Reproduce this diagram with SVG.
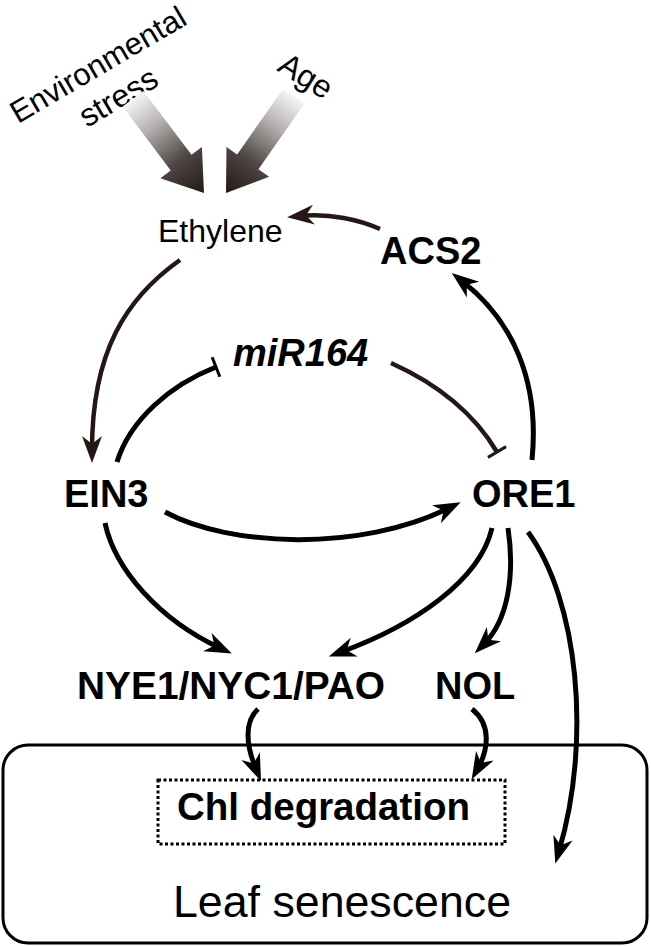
<svg xmlns="http://www.w3.org/2000/svg" width="651" height="946" viewBox="0 0 651 946">
<style>
  .reg { font-family: "Liberation Sans", Arial, sans-serif; fill: #000; }
  .bold { font-family: "Liberation Sans", Arial, sans-serif; font-weight: bold; fill: #000; font-size: 38px; }
  .ln { fill: none; stroke: #000; stroke-width: 5; }
  .br { fill: none; stroke: #231815; stroke-width: 4.5; }
</style>
<defs>
  <marker id="arr" markerUnits="userSpaceOnUse" markerWidth="40" markerHeight="40" refX="0" refY="0" orient="auto" overflow="visible">
    <path d="M13,0 L-14,-10 L-6,0 L-14,10 Z" fill="#000"/>
  </marker>
  <marker id="arrB" markerUnits="userSpaceOnUse" markerWidth="40" markerHeight="40" refX="0" refY="0" orient="auto" overflow="visible">
    <path d="M13,0 L-14,-10 L-6,0 L-14,10 Z" fill="#231815"/>
  </marker>
  <marker id="tee" markerUnits="userSpaceOnUse" markerWidth="30" markerHeight="30" refX="0" refY="0" orient="auto" overflow="visible">
    <rect x="-1.5" y="-10.5" width="3" height="21" fill="#000"/>
  </marker>
  <marker id="teeB" markerUnits="userSpaceOnUse" markerWidth="30" markerHeight="30" refX="0" refY="0" orient="auto" overflow="visible">
    <rect x="-1.5" y="-10.5" width="3" height="21" fill="#231815"/>
  </marker>
  <linearGradient id="fade" gradientUnits="userSpaceOnUse" x1="-118" y1="0" x2="0" y2="0">
    <stop offset="0" stop-color="#f6f5f5"/>
    <stop offset="0.3" stop-color="#b3afae"/>
    <stop offset="0.65" stop-color="#4f4745"/>
    <stop offset="1" stop-color="#231815"/>
  </linearGradient>
</defs>

<g id="inputs">
  <text class="reg" font-size="31" transform="translate(18,124) rotate(-30.5)">Environmental</text>
  <text class="reg" font-size="32" transform="translate(87,128) rotate(-30.5)">stress</text>
  <text class="reg" font-size="32" transform="translate(276,70) rotate(32)">Age</text>
  <g transform="translate(204,193) rotate(53)">
    <path d="M-118,-13 L-38,-13 L-38,-26 L0,0 L-38,26 L-38,13 L-118,13 Z" fill="url(#fade)"/>
  </g>
  <g transform="translate(226,193) rotate(125)">
    <path d="M-118,-13 L-38,-13 L-38,-26 L0,0 L-38,26 L-38,13 L-118,13 Z" fill="url(#fade)"/>
  </g>
</g>

<g id="connectors">
  <path class="br" d="M380,229 C360,220 330,213 300,216" marker-end="url(#arrB)"/>
  <path class="br" d="M180,260 C126,298 92,352 92,450" marker-end="url(#arrB)"/>
  <path class="ln" d="M117,462 C130,420 170,385 216,367" marker-end="url(#tee)"/>
  <path class="br" stroke-width="5" d="M391,363 C440,385 475,415 497,452" marker-end="url(#teeB)"/>
  <path class="ln" d="M532,460 C540,380 512,320 462,281" marker-end="url(#arr)"/>
  <path class="ln" stroke-width="6" d="M165,512 C230,547 360,552 449,508" marker-end="url(#arr)"/>
  <path class="ln" d="M105,523 C115,570 160,620 220,648" marker-end="url(#arr)"/>
  <path class="ln" d="M492,528 C480,580 415,625 341,652" marker-end="url(#arr)"/>
  <path class="ln" d="M508,528 C515,575 508,620 484,644" marker-end="url(#arr)"/>
  <path class="ln" d="M528,532 C578,600 592,740 559,851" marker-end="url(#arr)"/>
  <path class="ln" d="M258,709 C244,722 246,745 256,769" marker-end="url(#arr)"/>
  <path class="ln" d="M472,709 C492,725 488,750 478,768" marker-end="url(#arr)"/>
</g>

<g id="ethylene"><text class="reg" font-size="32" x="158" y="242">Ethylene</text></g>
<g id="acs2"><text class="bold" x="380" y="264">ACS2</text></g>
<g id="mir164"><text class="bold" font-style="italic" x="233" y="366">miR164</text></g>
<g id="ein3"><text class="bold" x="64" y="507">EIN3</text></g>
<g id="ore1"><text class="bold" x="472" y="507">ORE1</text></g>
<g id="nye"><text class="bold" x="77" y="699" textLength="308" lengthAdjust="spacingAndGlyphs">NYE1/NYC1/PAO</text></g>
<g id="nol"><text class="bold" x="435" y="699">NOL</text></g>
<g id="leaf">
  <rect x="3" y="745" width="644" height="198" rx="25" ry="25" fill="none" stroke="#000" stroke-width="3"/>
  <text class="reg" font-size="44" x="173" y="917" textLength="338" lengthAdjust="spacingAndGlyphs">Leaf senescence</text>
</g>
<g id="chl">
  <rect x="158" y="780" width="347" height="64" fill="none" stroke="#000" stroke-width="3" stroke-dasharray="3 2.5"/>
  <text class="bold" x="177" y="820" textLength="293" lengthAdjust="spacingAndGlyphs">Chl degradation</text>
</g>
</svg>
